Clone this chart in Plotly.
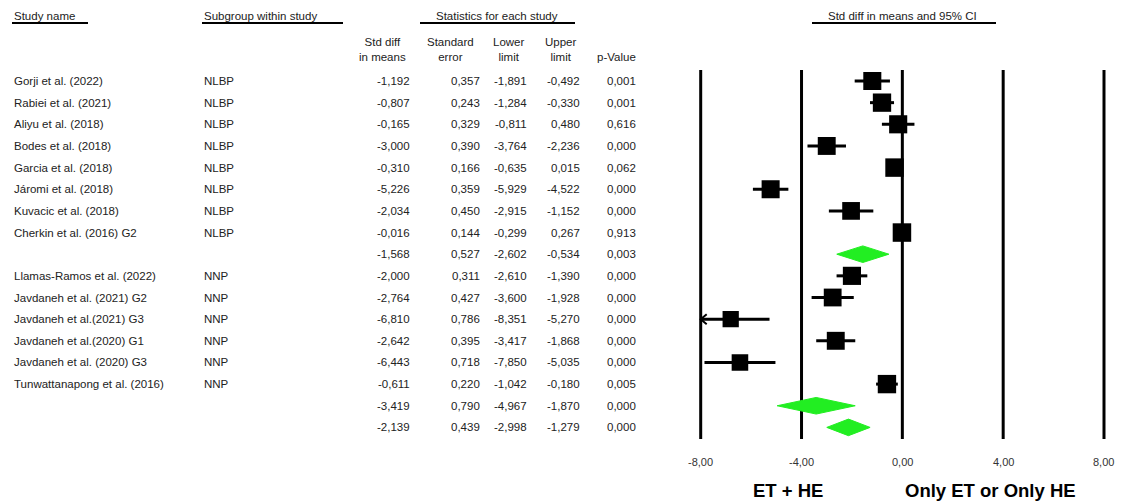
import plotly.graph_objects as go
import math

# ---------------- data ----------------
study_names = [
    "Gorji et al. (2022)", "Rabiei et al. (2021)", "Aliyu et al. (2018)", "Bodes et al. (2018)",
    "Garcia et al. (2018)", "Járomi et al. (2018)", "Kuvacic et al. (2018)", "Cherkin et al. (2016) G2",
    "Llamas-Ramos et al. (2022)", "Javdaneh et al. (2021) G2", "Javdaneh et al.(2021) G3",
    "Javdaneh et al.(2020) G1", "Javdaneh et al. (2020) G3", "Tunwattanapong et al. (2016)",
]
subgroups = ["NLBP", "NLBP", "NLBP", "NLBP", "NLBP", "NLBP", "NLBP", "NLBP",
             "NNP", "NNP", "NNP", "NNP", "NNP", "NNP"]
std_diff = [-1.192, -0.807, -0.165, -3.000, -0.310, -5.226, -2.034, -0.016,
            -2.000, -2.764, -6.810, -2.642, -6.443, -0.611]
std_err = [0.357, 0.243, 0.329, 0.390, 0.166, 0.359, 0.450, 0.144,
           0.311, 0.427, 0.786, 0.395, 0.718, 0.220]
lower_limit = [-1.891, -1.284, -0.811, -3.764, -0.635, -5.929, -2.915, -0.299,
               -2.610, -3.600, -8.351, -3.417, -7.850, -1.042]
upper_limit = [-0.492, -0.330, 0.480, -2.236, 0.015, -4.522, -1.152, 0.267,
               -1.390, -1.928, -5.270, -1.868, -5.035, -0.180]
p_value = [0.001, 0.001, 0.616, 0.000, 0.062, 0.000, 0.000, 0.913,
           0.000, 0.000, 0.000, 0.000, 0.000, 0.005]

# subgroup summaries (NLBP, NNP) and overall
summary_groups = ["NLBP", "NNP", "Overall"]
summary_diff = [-1.568, -3.419, -2.139]
summary_se = [0.527, 0.790, 0.439]
summary_lower = [-2.602, -4.967, -2.998]
summary_upper = [-0.534, -1.870, -1.279]
summary_p = [0.003, 0.000, 0.000]

tick_values = [-8, -4, 0, 4, 8]
tick_labels = ["-8,00", "-4,00", "0,00", "4,00", "8,00"]
favours_labels = ["ET + HE", "Only ET or Only HE"]

# ---------------- layout helpers ----------------
W, H = 1122, 503
ROW0, ROWH = 81.0, 21.65
XMIN, XMAX = -8.6, 8.6
PX_PER_UNIT = (1104.0 - 700.7) / 16.0
x_left_px = 700.7 - (XMIN + 8) * -PX_PER_UNIT
x_right_px = 1104.0 + (XMAX - 8) * PX_PER_UNIT


def pxx(x):
    return x / W


def pyy(y):
    return 1 - y / H


def row_at(ypix):
    return (ypix - ROW0) / ROWH


def fmt(v):
    return f"{v:.3f}".replace(".", ",")


FONT = "Liberation Sans, Arial, sans-serif"
TXT = "#222222"
GREEN = "#22ee22"
TAU2 = 2.0

# build row list
rows = []  # (kind, name, sub, est, se, lo, hi, p)
for g_i, g in enumerate(summary_groups[:2]):
    for i in range(len(study_names)):
        if subgroups[i] == g:
            rows.append(("study", study_names[i], subgroups[i], std_diff[i], std_err[i],
                         lower_limit[i], upper_limit[i], p_value[i]))
    rows.append(("summary", "", "", summary_diff[g_i], summary_se[g_i],
                 summary_lower[g_i], summary_upper[g_i], summary_p[g_i]))
rows.append(("summary", "", "", summary_diff[2], summary_se[2],
             summary_lower[2], summary_upper[2], summary_p[2]))

fig = go.Figure()

# CI lines
lx, ly = [], []
ax_, ay_ = [], []
for r, row in enumerate(rows):
    if row[0] != "study":
        continue
    lo, hi = row[5], row[6]
    lo_c = max(lo, -8.0)
    lx += [lo_c, hi, None]
    ly += [r, r, None]
    if lo < -8.0:
        dx = 6 / PX_PER_UNIT
        dy = 5 / ROWH
        ax_ += [-8.0 + dx, -8.0, -8.0 + dx, None]
        ay_ += [r - dy, r, r + dy, None]
fig.add_trace(go.Scatter(x=lx, y=ly, mode="lines", line=dict(color="black", width=3),
                         hoverinfo="skip", showlegend=False))
if ax_:
    fig.add_trace(go.Scatter(x=ax_, y=ay_, mode="lines", line=dict(color="black", width=2),
                             hoverinfo="skip", showlegend=False))

# squares
wts = [1.0 / (row[4] ** 2 + TAU2) for row in rows if row[0] == "study"]
wmax = max(wts)
sx, sy, ss = [], [], []
k = 0
for r, row in enumerate(rows):
    if row[0] != "study":
        continue
    sx.append(row[3])
    sy.append(r)
    ss.append(18.5 * math.sqrt(wts[k] / wmax))
    k += 1
fig.add_trace(go.Scatter(x=sx, y=sy, mode="markers",
                         marker=dict(symbol="square", size=ss, color="black", opacity=1,
                                     line=dict(width=0)),
                         hoverinfo="skip", showlegend=False))

# diamonds
hh = 8.3 / ROWH
for r, row in enumerate(rows):
    if row[0] != "summary":
        continue
    est, lo, hi = row[3], row[5], row[6]
    fig.add_trace(go.Scatter(x=[lo, est, hi, est, lo], y=[r, r - hh, r, r + hh, r],
                             mode="lines", fill="toself", fillcolor=GREEN,
                             line=dict(color=GREEN, width=1),
                             hoverinfo="skip", showlegend=False))

shapes = []
# vertical reference lines
for tv in tick_values:
    shapes.append(dict(type="line", xref="x", yref="y", x0=tv, x1=tv,
                       y0=row_at(70), y1=row_at(439), line=dict(color="black", width=3),
                       layer="below"))

# header underlines
for x0, x1 in [(12, 88), (202, 343), (420, 575), (812, 996)]:
    shapes.append(dict(type="line", xref="paper", yref="paper", x0=pxx(x0), x1=pxx(x1),
                       y0=pyy(23), y1=pyy(23), line=dict(color="black", width=2)))

ann = []


def add_text(text, x, y, xanchor="left", size=11.5, yref="paper", color=TXT, align="left"):
    ann.append(dict(text=text, x=pxx(x), y=y, xref="paper", yref=yref, xanchor=xanchor,
                    yanchor="middle", showarrow=False, align=align,
                    font=dict(family=FONT, size=size, color=color)))


# top headers
add_text("Study name", 12, pyy(16))
add_text("Subgroup within study", 202, pyy(16))
add_text("Statistics for each study", 497, pyy(16), xanchor="center")
add_text("Std diff in means and 95% CI", 902, pyy(16), xanchor="center")

col_centers = [382, 450, 508, 560, 616]
col_heads = ["Std diff<br>in means", "Standard<br>error", "Lower<br>limit", "Upper<br>limit"]
for c, htxt in zip(col_centers[:4], col_heads):
    add_text(htxt, c, pyy(49.5), xanchor="center", align="center")
add_text("p-Value", col_centers[4], pyy(57), xanchor="center")

col_right = [412, 482, 529, 582, 638]
for r, row in enumerate(rows):
    if row[1]:
        add_text(row[1], 12, r, yref="y")
        add_text(row[2], 202, r, yref="y")
    vals = [fmt(row[3]), fmt(row[4]), fmt(row[5]), fmt(row[6]), fmt(row[7])]
    for xr, v in zip(col_right, vals):
        add_text(v, xr, r, xanchor="right", yref="y")

# tick labels (axis)
for tv, tl in zip(tick_values, tick_labels):
    ann.append(dict(text=tl, x=tv, y=pyy(462), xref="x", yref="paper", xanchor="center",
                    yanchor="middle", showarrow=False,
                    font=dict(family=FONT, size=11, color="#333333")))

# favours labels
add_text("<b>" + favours_labels[0] + "</b>", 788, pyy(490), xanchor="center", size=18.5, color="#000000")
add_text("<b>" + favours_labels[1] + "</b>", 990, pyy(490), xanchor="center", size=18.5, color="#000000")

fig.update_layout(
    width=W, height=H, margin=dict(l=0, r=0, t=0, b=0),
    paper_bgcolor="white", plot_bgcolor="white",
    xaxis=dict(range=[XMIN, XMAX], domain=[pxx(x_left_px), pxx(x_right_px)],
               showgrid=False, zeroline=False, showticklabels=False, showline=False,
               ticks="", fixedrange=True),
    yaxis=dict(range=[row_at(H), row_at(0)], domain=[0, 1], showgrid=False, zeroline=False,
               showticklabels=False, showline=False, ticks="", fixedrange=True),
    shapes=shapes, annotations=ann, showlegend=False,
)

fig.write_html("out.html", config={"displayModeBar": False},
               post_script="document.body.style.margin='0';document.body.style.overflow='hidden';")
